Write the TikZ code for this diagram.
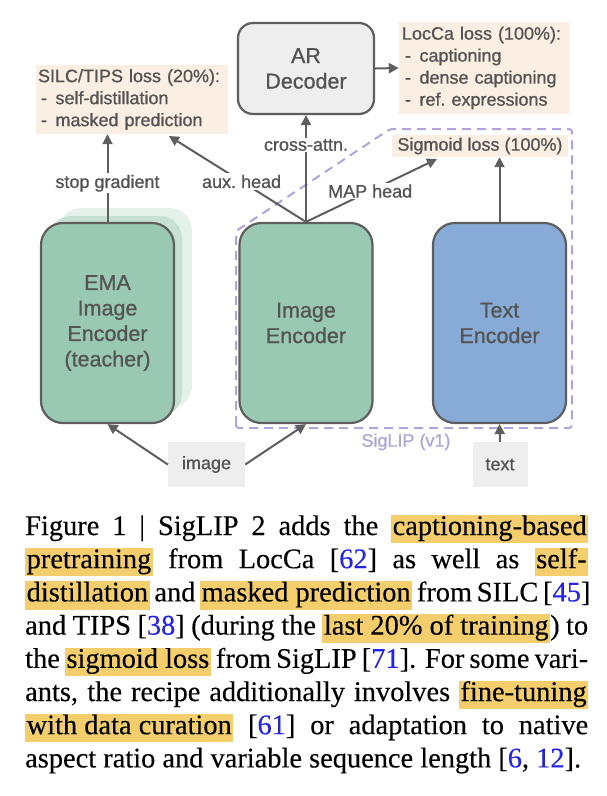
\documentclass[tikz,border=0pt]{standalone}
\usepackage{fontspec}
\setmainfont{Liberation Serif}[FakeBold=0.25]
\newfontfamily\diagfont{Liberation Sans}[FakeBold=0.9]
\usetikzlibrary{arrows.meta}
\definecolor{bordergray}{HTML}{5E5E5E}
\definecolor{txtgray}{HTML}{545454}
\definecolor{encgreen}{HTML}{9AC9B3}
\definecolor{greenmid}{HTML}{C6E1D4}
\definecolor{greenback}{HTML}{E4F1EB}
\definecolor{encblue}{HTML}{87ABD6}
\definecolor{argray}{HTML}{EEEEEE}
\definecolor{lossfill}{HTML}{FBEFE3}
\definecolor{inputfill}{HTML}{EEEEEE}
\definecolor{siglipc}{HTML}{B0A5DA}
\definecolor{hlc}{HTML}{F4CD6C}
\definecolor{citeblue}{HTML}{2424E8}
\newcommand\hlword[1]{{\setlength{\fboxsep}{0pt}\colorbox{hlc}{\kern1.5pt\rule[-0.29em]{0pt}{1.0em}#1\kern1.5pt}}}
\newcommand\citenum[1]{\textcolor{citeblue}{#1}}
\newcommand\capline[1]{\makebox[563pt][s]{#1}}
\begin{document}
\begin{tikzpicture}[x=1pt,y=-1pt,
  dtext/.style={font=\diagfont\fontsize{18}{22}\selectfont, text=txtgray},
  encbox/.style={draw=bordergray, line width=2.2pt, rounded corners=22pt,
    minimum width=133pt, minimum height=200pt, inner sep=0pt,
    font=\diagfont\fontsize{21.5}{25.5}\selectfont, text=txtgray, align=center},
  lossbox/.style={dtext, fill=lossfill, inner sep=0pt, align=left},
  inbox/.style={dtext, fill=inputfill, inner sep=0pt, minimum height=45pt},
  arr/.style={draw=bordergray, line width=2pt, -{Triangle[length=10pt,width=10pt]}},
  lbl/.style={dtext, fill=white, inner sep=1.5pt},
  capt/.style={anchor=base west, inner sep=0pt, font=\fontsize{28.4}{33}\selectfont, text=black}
]
\useasboundingbox (0,0) rectangle (606,796);

% SigLIP (v1) dashed region
\draw[siglipc, line width=2pt, dash pattern=on 9pt off 6pt, rounded corners=3pt]
  (236,428) -- (236,231) -- (390,129) -- (572,129) -- (572,428) -- cycle;
\node[dtext, text=siglipc] (siglip) at (406,442) {SigLIP (v1)};

% EMA shadow layers
\node[encbox, draw=none, fill=greenback] (emaback) at (125.5,308) {};
\node[encbox, draw=none, fill=greenmid] (emamid) at (115.5,316) {};

% encoders
\node[encbox, fill=encgreen] (ema) at (107.5,323) {EMA\\Image\\Encoder\\(teacher)};
\node[encbox, fill=encgreen] (imgenc) at (306,323) {Image\\Encoder};
\node[encbox, fill=encblue] (txtenc) at (499.5,323) {Text\\Encoder};

% AR decoder
\node[encbox, fill=argray, rounded corners=15pt, minimum width=136pt, minimum height=91pt] (ar) at (306,68.5) {AR\\Decoder};

% loss boxes
\node[lossbox, minimum width=170pt, minimum height=92pt, text width=164pt] (locca) at (484,68)
  {LocCa loss (100\%):\\\hspace*{3pt}-\hspace{8.5pt}captioning\\\hspace*{3pt}-\hspace{8.5pt}dense captioning\\\hspace*{3pt}-\hspace{8.5pt}ref.\ expressions};
\node[lossbox, minimum width=192pt, minimum height=69pt, text width=188pt] (silc) at (132,99.5)
  {SILC/TIPS loss (20\%):\\\hspace*{3pt}-\hspace{8.5pt}self-distillation\\\hspace*{3pt}-\hspace{8.5pt}masked prediction};
\node[lossbox, minimum width=176pt, minimum height=22pt, align=center] (sig) at (480,146) {Sigmoid loss (100\%)};

% inputs
\node[inbox, minimum width=77pt] (img) at (206.5,464.5) {image};
\node[inbox, minimum width=55pt] (txt) at (500,464.5) {text};

% free ends
\coordinate (auxend) at (169,136);
\coordinate (mapend) at (437,159);

% connectors
\draw[arr] (ema.north) -- node[lbl, pos=0.44] {stop gradient} (ema.north |- silc.south);
\draw[arr] (imgenc.north) -- node[lbl, pos=0.47] {aux.\ head} (auxend);
\draw[arr] (imgenc.north) -- node[lbl, pos=0.72] {cross-attn.} (ar.south);
\draw[arr] (imgenc.north) -- node[lbl, pos=0.49] {MAP head} (mapend);
\draw[arr] (txtenc.north) -- (txtenc.north |- sig.south);
\draw[arr] (ar.east) -- (locca.west);
\draw[arr] (img.west) -- (ema.south);
\draw[arr] (img.east) -- (imgenc.south);
\draw[arr] (txt.north) -- (txtenc.south);

% caption
\node[capt] (c1) at (25,535) {\capline{Figure 1 | SigLIP 2 adds the \hlword{captioning-based}}};
\node[capt] (c2) at (25,568.2) {\capline{\hlword{pretraining} from LocCa [\citenum{62}] as well as \hlword{self-}}};
\node[capt] (c3) at (25,601.4) {\capline{\hlword{distillation} and \hlword{masked prediction} from SILC [\citenum{45}]}};
\node[capt] (c4) at (25,634.6) {\capline{and TIPS [\citenum{38}] (during the \hlword{last 20\% of training}) to}};
\node[capt] (c5) at (25,667.8) {\capline{the \hlword{sigmoid loss} from SigLIP [\citenum{71}]. For some vari-}};
\node[capt] (c6) at (25,701) {\capline{ants, the recipe additionally involves \hlword{fine-tuning}}};
\node[capt] (c7) at (25,734.2) {\capline{\hlword{with data curation} [\citenum{61}] or adaptation to native}};
\node[capt] (c8) at (25,767.4) {aspect ratio and variable sequence length [\citenum{6}, \citenum{12}].};
\end{tikzpicture}
\end{document}
